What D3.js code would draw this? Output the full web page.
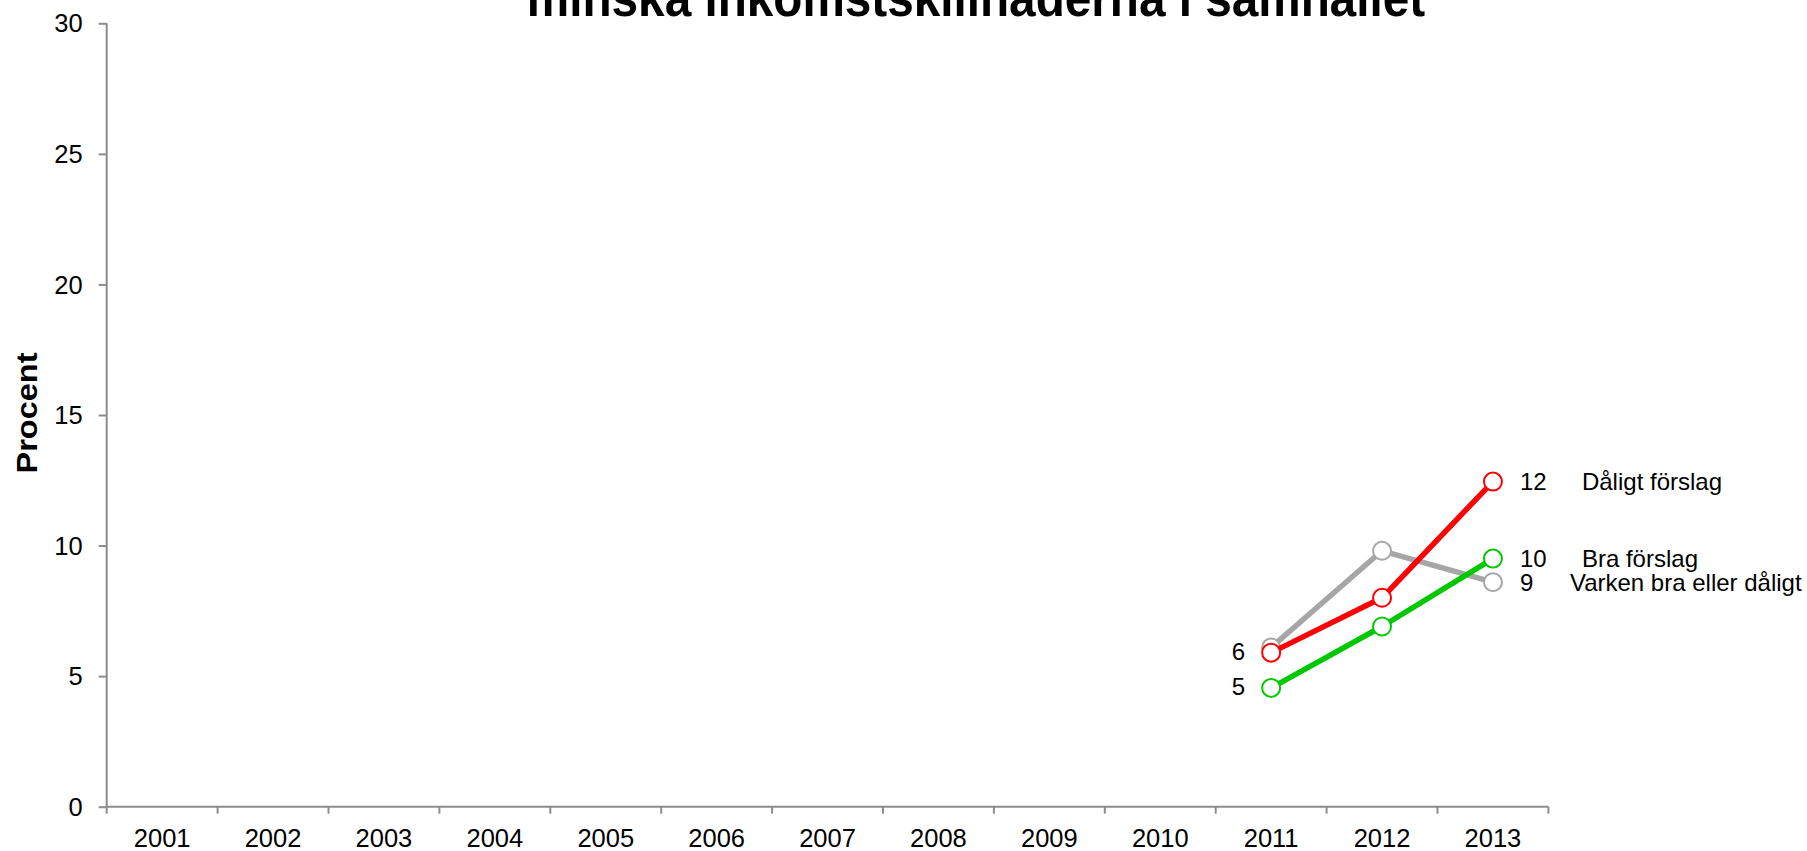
<!DOCTYPE html>
<html>
<head>
<meta charset="utf-8">
<script src="https://cdn.jsdelivr.net/npm/d3@7"></script>
<style>
  html, body { margin: 0; padding: 0; background: #fff; }
  svg { display: block; font-family: Arial, "Liberation Sans", sans-serif; }
</style>
</head>
<body>
<svg id="chart" width="1807" height="851"></svg>
<script>
// ---- data ----
const years = ["2001","2002","2003","2004","2005","2006","2007","2008","2009","2010","2011","2012","2013"];
const yTicks = [0, 5, 10, 15, 20, 25, 30];
const seriesNames = ["Varken bra eller dåligt", "Dåligt förslag", "Bra förslag"];
const seriesColors = ["#a6a6a6", "#ff0000", "#00c800"];
const varkenValues = [null,null,null,null,null,null,null,null,null,null, 6.1, 9.8, 8.6];
const daligtValues = [null,null,null,null,null,null,null,null,null,null, 5.9, 8.0, 12.45];
const braValues    = [null,null,null,null,null,null,null,null,null,null, 4.55, 6.9, 9.5];
const firstLabels = [false, true, true];   // which series show the 2011 value label
const titleText = "minska inkomstskillnaderna i samhället";
const yTitle = "Procent";

// ---- layout ----
const svg = d3.select("#chart");
const plotLeft = 106.7, plotRight = 1548.4, plotTop = 23.3, plotBottom = 806.7;
const axisColor = "#8c8c8c";

const x = d3.scaleBand().domain(years).range([plotLeft, plotRight]).padding(0);
const y = d3.scaleLinear().domain([0, 30]).range([plotBottom, plotTop]);

// title (clipped at top as in reference)
svg.append("text")
  .attr("transform", "translate(976,15.5) scale(1,1.08)")
  .attr("text-anchor", "middle")
  .attr("font-weight", "bold")
  .attr("font-size", 47.7)
  .attr("fill", "#000")
  .text(titleText);

// y axis title
svg.append("text")
  .attr("transform", "translate(37,413) rotate(-90)")
  .attr("text-anchor", "middle")
  .attr("font-weight", "bold")
  .attr("font-size", 29)
  .attr("textLength", 121)
  .attr("lengthAdjust", "spacingAndGlyphs")
  .text(yTitle);

// y axis
const yAxis = svg.append("g").attr("transform", `translate(${plotLeft},0)`)
  .call(d3.axisLeft(y).tickValues(yTicks).tickSize(8).tickPadding(16).tickFormat(d3.format("d")));
yAxis.select(".domain").attr("stroke", axisColor).attr("stroke-width", 2).attr("d", `M0,${plotTop}V${plotBottom}`);
yAxis.selectAll(".tick line").attr("stroke", axisColor).attr("stroke-width", 2);
yAxis.selectAll(".tick text").attr("font-size", 25.5).attr("fill", "#000")
  .attr("font-family", "Arial, 'Liberation Sans', sans-serif").attr("dy", "0.34em");

// x axis with ticks at category boundaries
const xg = svg.append("g").attr("transform", `translate(0,${plotBottom})`);
xg.append("line").attr("x1", plotLeft).attr("x2", plotRight).attr("y1", 0).attr("y2", 0)
  .attr("stroke", axisColor).attr("stroke-width", 2);
const boundaries = years.map(d => x(d)).concat([x(years[years.length - 1]) + x.bandwidth()]);
xg.selectAll("line.tk").data(boundaries).join("line").attr("class", "tk")
  .attr("x1", d => d).attr("x2", d => d).attr("y1", 0).attr("y2", 7)
  .attr("stroke", axisColor).attr("stroke-width", 2);
xg.selectAll("text.lbl").data(years).join("text").attr("class", "lbl")
  .attr("x", d => x(d) + x.bandwidth() / 2).attr("y", 40)
  .attr("text-anchor", "middle").attr("font-size", 25.5).attr("fill", "#000")
  .text(d => d);

// series
const allValues = [varkenValues, daligtValues, braValues];
const cx = d => x(d) + x.bandwidth() / 2;
const line = d3.line().defined(d => d.v != null).x(d => cx(d.year)).y(d => y(d.v));

allValues.forEach((vals, i) => {
  const pts = years.map((yr, j) => ({ year: yr, v: vals[j] }));
  const valid = pts.filter(p => p.v != null);
  const g = svg.append("g");
  g.append("path").datum(pts).attr("d", line)
    .attr("fill", "none").attr("stroke", seriesColors[i]).attr("stroke-width", 5.5)
    .attr("stroke-linejoin", "round");
  g.selectAll("circle").data(valid).join("circle")
    .attr("cx", p => cx(p.year)).attr("cy", p => y(p.v)).attr("r", 9)
    .attr("fill", "#fff").attr("stroke", seriesColors[i]).attr("stroke-width", 2);
});

// labels: last-point values and series names
const nameOffsets = { "Varken bra eller dåligt": 77, "Dåligt förslag": 89, "Bra förslag": 89 };
allValues.forEach((vals, i) => {
  const valid = years.map((yr, j) => ({ year: yr, v: vals[j] })).filter(p => p.v != null);
  const last = valid[valid.length - 1];
  const first = valid[0];
  const lx = cx(last.year), ly = y(last.v);
  svg.append("text").attr("x", lx + 27).attr("y", ly).attr("dy", "0.35em")
    .attr("font-size", 24).attr("fill", "#000").text(Math.round(last.v));
  svg.append("text").attr("x", lx + nameOffsets[seriesNames[i]]).attr("y", ly).attr("dy", "0.35em")
    .attr("font-size", 24).attr("fill", "#000").text(seriesNames[i]);
  if (firstLabels[i]) {
    svg.append("text").attr("x", cx(first.year) - 26).attr("y", y(first.v)).attr("dy", "0.3em")
      .attr("text-anchor", "end").attr("font-size", 24).attr("fill", "#000").text(Math.round(first.v));
  }
});
</script>
</body>
</html>
